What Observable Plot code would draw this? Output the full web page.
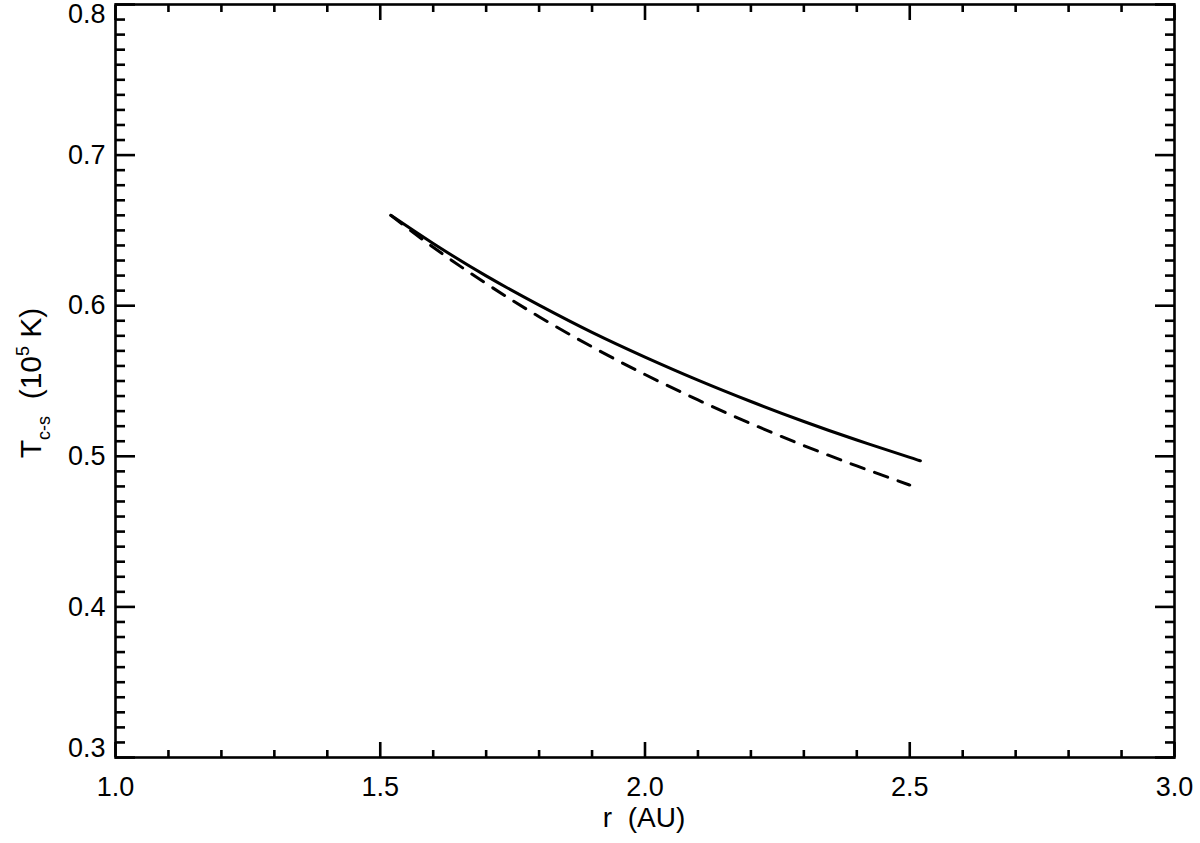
<!DOCTYPE html>
<html>
<head>
<meta charset="utf-8">
<script src="https://cdn.jsdelivr.net/npm/d3@7"></script>
<script src="https://cdn.jsdelivr.net/npm/@observablehq/plot@0.6"></script>
<style>
  html, body { margin: 0; padding: 0; background: #fff; }
  #chart svg { display: block; }
</style>
</head>
<body>
<div id="chart"></div>
<script>
// ---- data ----
const rSolid  = [1.52, 1.60, 1.70, 1.80, 1.90, 2.00, 2.10, 2.20, 2.30, 2.40, 2.50, 2.52];
const TSolid  = [0.6600, 0.6413, 0.6198, 0.6004, 0.5823, 0.5659, 0.5506, 0.5364, 0.5231, 0.5108, 0.4993, 0.4970];
const rDashed = [1.52, 1.60, 1.70, 1.80, 1.90, 2.00, 2.10, 2.20, 2.30, 2.40, 2.50];
const TDashed = [0.6600, 0.6388, 0.6147, 0.5927, 0.5727, 0.5543, 0.5374, 0.5217, 0.5071, 0.4936, 0.4809];

const xMajor = [1.0, 1.5, 2.0, 2.5, 3.0];
const xMinor = [1.1, 1.2, 1.3, 1.4, 1.6, 1.7, 1.8, 1.9, 2.1, 2.2, 2.3, 2.4, 2.6, 2.7, 2.8, 2.9];
const yMajor = [0.3, 0.4, 0.5, 0.6, 0.7, 0.8];
const yMinor = d3.range(31, 80).filter(v => v % 10 !== 0).map(v => v / 100);

const xTitle = "r  (AU)";
const yTitleParts = ["T", "c-s", "  (10", "5", " K)"];

const solid = rSolid.map((r, i) => ({r, T: TSolid[i]}));
const dashed = rDashed.map((r, i) => ({r, T: TDashed[i]}));

const FONT = "'Liberation Sans', Helvetica, Arial, sans-serif";
const SW = 2.6;
const blank = () => "";

const chart = Plot.plot({
  width: 1200,
  height: 843,
  marginLeft: 115,
  marginRight: 26,
  marginTop: 4,
  marginBottom: 86,
  style: {fontFamily: FONT, background: "#fff", color: "#000"},
  x: {domain: [1, 3]},
  y: {domain: [0.3, 0.8]},
  marks: [
    // inward ticks, bottom & top
    Plot.axisX(xMajor, {anchor: "bottom", tickSize: -15, strokeWidth: SW, tickFormat: blank, label: null}),
    Plot.axisX(xMinor, {anchor: "bottom", tickSize: -7, strokeWidth: SW, tickFormat: blank, label: null}),
    Plot.axisX(xMajor, {anchor: "top", tickSize: -15, strokeWidth: SW, tickFormat: blank, label: null}),
    Plot.axisX(xMinor, {anchor: "top", tickSize: -7, strokeWidth: SW, tickFormat: blank, label: null}),
    // inward ticks, left & right
    Plot.axisY(yMajor, {anchor: "left", tickSize: -20, strokeWidth: SW, tickFormat: blank, label: null}),
    Plot.axisY(yMinor, {anchor: "left", tickSize: -10, strokeWidth: SW, tickFormat: blank, label: null}),
    Plot.axisY(yMajor, {anchor: "right", tickSize: -20, strokeWidth: SW, tickFormat: blank, label: null}),
    Plot.axisY(yMinor, {anchor: "right", tickSize: -10, strokeWidth: SW, tickFormat: blank, label: null}),
    // tick labels
    Plot.axisX(xMajor, {anchor: "bottom", tickSize: 0, tickPadding: 19, tickFormat: d3.format(".1f"), fontSize: 27, label: null}),
    Plot.axisY(yMajor.filter(v => v > 0.3 && v < 0.8), {anchor: "left", tickSize: 0, tickPadding: 10, tickFormat: d3.format(".1f"), fontSize: 27, label: null}),
    Plot.axisY([0.8], {anchor: "left", tickSize: 0, tickPadding: 10, dy: 10, tickFormat: d3.format(".1f"), fontSize: 27, label: null}),
    Plot.axisY([0.3], {anchor: "left", tickSize: 0, tickPadding: 10, dy: -9, tickFormat: d3.format(".1f"), fontSize: 27, label: null}),
    Plot.frame({stroke: "#000", strokeWidth: SW}),
    // curves
    Plot.line(solid, {x: "r", y: "T", stroke: "#000", strokeWidth: 3, curve: "natural"}),
    Plot.line(dashed, {x: "r", y: "T", stroke: "#000", strokeWidth: 3, strokeDasharray: "14,11", curve: "natural"})
  ]
});

document.getElementById("chart").appendChild(chart);

// axis titles with sub/superscripts
const svg = d3.select(chart);
svg.append("text")
  .attr("x", 644).attr("y", 827)
  .attr("text-anchor", "middle")
  .attr("xml:space", "preserve")
  .style("white-space", "pre")
  .attr("font-family", FONT).attr("font-size", 28).attr("fill", "#000")
  .text(xTitle);

const yt = svg.append("text")
  .attr("transform", "translate(41,383) rotate(-90)")
  .attr("text-anchor", "middle")
  .attr("xml:space", "preserve")
  .style("white-space", "pre")
  .attr("font-family", FONT).attr("font-size", 30).attr("fill", "#000");
yt.append("tspan").text(yTitleParts[0]);
yt.append("tspan").attr("font-size", 18).attr("dy", 9).text(yTitleParts[1]);
yt.append("tspan").attr("dy", -9).text(yTitleParts[2]);
yt.append("tspan").attr("font-size", 18).attr("dy", -12).text(yTitleParts[3]);
yt.append("tspan").attr("dy", 12).text(yTitleParts[4]);
</script>
</body>
</html>
